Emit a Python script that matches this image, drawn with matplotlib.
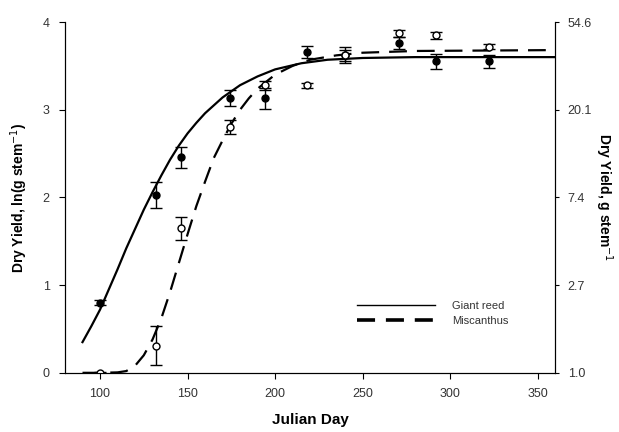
import numpy as np
import matplotlib
matplotlib.use("Agg")
import matplotlib.pyplot as plt

plt.rcParams['font.family'] = ['Liberation Sans', 'DejaVu Sans']

# Observed data (Julian day, ln dry yield, error)
days = [100, 132, 146, 174, 194, 218, 240, 271, 292, 322]
gr_y = [0.80, 2.03, 2.46, 3.13, 3.13, 3.66, 3.62, 3.76, 3.55, 3.55]
gr_err = [0.03, 0.15, 0.12, 0.09, 0.12, 0.07, 0.06, 0.07, 0.08, 0.07]
mi_y = [0.0, 0.31, 1.65, 2.80, 3.28, 3.28, 3.62, 3.87, 3.85, 3.72]
mi_err = [0.01, 0.22, 0.13, 0.08, 0.05, 0.03, 0.09, 0.04, 0.04, 0.03]

# Fitted curves
gr_curve_x = [90, 95, 100, 105, 110, 115, 120, 125, 130, 135, 140, 145, 150, 155, 160,
              170, 180, 190, 200, 215, 230, 250, 280, 360]
gr_curve_y = [0.35, 0.53, 0.72, 0.95, 1.18, 1.42, 1.64, 1.86, 2.06, 2.25, 2.43, 2.59, 2.73,
              2.85, 2.96, 3.14, 3.28, 3.38, 3.46, 3.53, 3.57, 3.59, 3.60, 3.60]
mi_curve_x = [90, 100, 110, 115, 120, 125, 130, 135, 140, 145, 150, 155, 160, 165, 170,
              175, 180, 185, 190, 200, 210, 220, 235, 250, 280, 360]
mi_curve_y = [0.0, 0.0, 0.005, 0.02, 0.08, 0.20, 0.38, 0.62, 0.92, 1.25, 1.58, 1.90, 2.18,
              2.45, 2.65, 2.84, 3.00, 3.13, 3.24, 3.40, 3.50, 3.57, 3.62, 3.65, 3.67, 3.68]

right_ticks = [0, 1, 2, 3, 4]
right_labels = ["1.0", "2.7", "7.4", "20.1", "54.6"]

fig = plt.figure(figsize=(6.19, 4.32), dpi=100)
ax = fig.add_axes([0.105, 0.137, 0.792, 0.812])

l1, = ax.plot(gr_curve_x, gr_curve_y, color='black', lw=1.6, label='Giant reed', zorder=2)
l2, = ax.plot(mi_curve_x, mi_curve_y, color='black', lw=1.6, ls=(0, (8, 4.5)),
              label='Miscanthus', zorder=2)

ax.errorbar(days, gr_y, yerr=gr_err, fmt='o', ms=5, mfc='black', mec='black',
            ecolor='black', elinewidth=1, capsize=4, capthick=1, zorder=3)
ax.errorbar(days, mi_y, yerr=mi_err, fmt='o', ms=5, mfc='white', mec='black',
            ecolor='black', elinewidth=1, capsize=4, capthick=1, zorder=4)

ax.set_xlim(80, 360)
ax.set_ylim(0, 4)
ax.set_xticks([100, 150, 200, 250, 300, 350])
ax.set_yticks([0, 1, 2, 3, 4])
ax.spines['top'].set_visible(False)
ax.tick_params(direction='out', length=4, labelsize=9, colors='black', pad=7)
for lab in ax.get_xticklabels() + ax.get_yticklabels():
    lab.set_color('#333333')

ax.set_xlabel('Julian Day', fontsize=11, fontweight='bold', labelpad=9)
ax.set_ylabel('Dry Yield, ln(g stem$^{-1}$)', fontsize=10, fontweight='bold', labelpad=9)

ax2 = ax.twinx()
ax2.set_ylim(0, 4)
ax2.set_yticks(right_ticks)
ax2.set_yticklabels(right_labels)
ax2.spines['top'].set_visible(False)
ax2.tick_params(direction='out', length=3, labelsize=9, pad=6)
for lab in ax2.get_yticklabels():
    lab.set_color('#333333')
ax2.set_ylabel('Dry Yield, g stem$^{-1}$', fontsize=10, fontweight='bold',
               rotation=270, labelpad=16)

leg = ax.legend(handles=[l1, l2], loc='center left', bbox_to_anchor=(0.575, 0.17),
                frameon=False, fontsize=8, handlelength=7, handletextpad=1.6,
                labelspacing=0.45)
leg.get_lines()[0].set_linewidth(1.0)
leg.get_lines()[1].set_linewidth(2.6)
leg.get_lines()[1].set_linestyle((0, (5, 3)))
for t in leg.get_texts():
    t.set_color('#333333')

fig.savefig('out.png', dpi=100)
